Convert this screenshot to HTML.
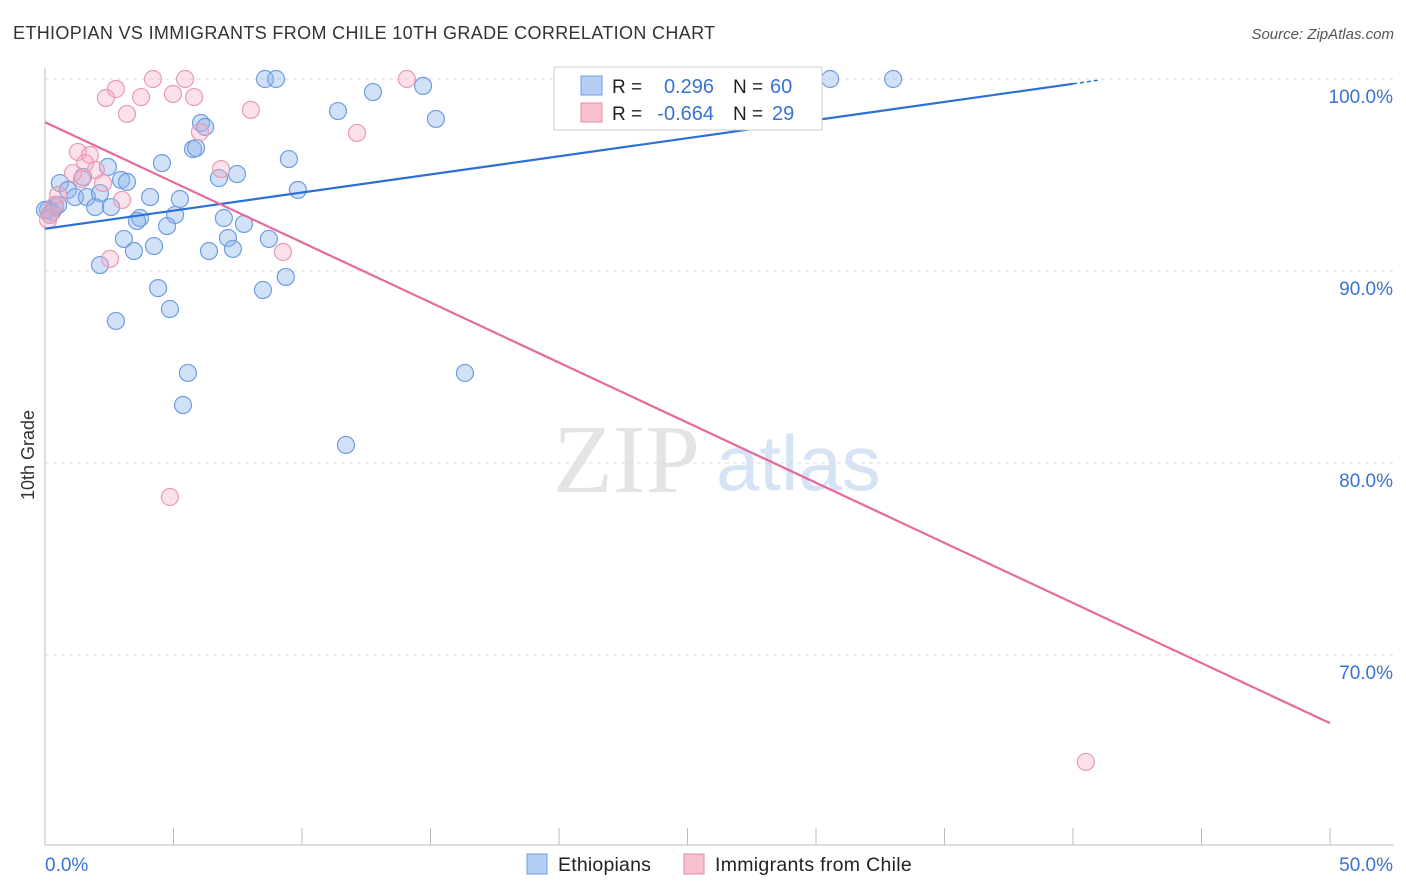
<!DOCTYPE html>
<html><head><meta charset="utf-8"><style>
body{margin:0;background:#fff;font-family:"Liberation Sans",sans-serif;}
#wrap{position:relative;width:1406px;height:892px;overflow:hidden;}
</style></head><body>
<div id="wrap">
<svg id="svg" width="1406" height="892" xmlns="http://www.w3.org/2000/svg">
<text x="13" y="39" font-size="18" fill="#333" letter-spacing="0.35">ETHIOPIAN VS IMMIGRANTS FROM CHILE 10TH GRADE CORRELATION CHART</text>
<text x="1394" y="39" font-size="15" fill="#555" font-style="italic" text-anchor="end">Source: ZipAtlas.com</text>
<text x="34" y="455" font-size="18" fill="#333" transform="rotate(-90 34 455)" text-anchor="middle">10th Grade</text>
<text x="553" y="492" font-size="98" fill="#e4e4e4" font-family="Liberation Serif,serif">ZIP</text>
<text x="716" y="490" font-size="78" fill="#d5e3f5">atlas</text>
<g id="grid"></g><g id="marks"></g><g id="lines"></g>
<g>
<rect x="554" y="67" width="268" height="63" fill="#fff" stroke="#ccc"/>
<rect x="581" y="76" width="21" height="19" fill="#b3cff5" stroke="#6f9de0"/>
<rect x="581" y="103" width="21" height="19" fill="#f9c0d0" stroke="#e58aa8"/>
<text x="612" y="93" font-size="19" fill="#222">R =</text>
<text x="714" y="93" font-size="20" fill="#3a72d4" text-anchor="end">0.296</text>
<text x="733" y="93" font-size="19" fill="#222">N =</text>
<text x="770" y="93" font-size="20" fill="#3a72d4">60</text>
<text x="612" y="120" font-size="19" fill="#222">R =</text>
<text x="714" y="120" font-size="20" fill="#3a72d4" text-anchor="end">-0.664</text>
<text x="733" y="120" font-size="19" fill="#222">N =</text>
<text x="772" y="120" font-size="20" fill="#3a72d4">29</text>
</g>
<g>
<rect x="527" y="854" width="20" height="20" fill="#b3cff5" stroke="#6f9de0"/>
<text x="558" y="871" font-size="19.5" fill="#222" letter-spacing="0.2">Ethiopians</text>
<rect x="684" y="854" width="20" height="20" fill="#f9c0d0" stroke="#e58aa8"/>
<text x="715" y="871" font-size="19.5" fill="#222" letter-spacing="0.3">Immigrants from Chile</text>
</g>
</svg>
</div>
<script>
const xTicks=[0,5,10,15,20,25,30,35,40,45,50];
const yTicks=[100,90,80,70];
const yTickLabels=["100.0%","90.0%","80.0%","70.0%"];
const xEndLabels=["0.0%","50.0%"];
const ethX=[8.56,8.99,30.55,33.0,14.71,12.76,11.40,15.21,20.70,6.07,6.23,5.76,5.88,9.49,4.55,2.45,7.47,6.77,2.96,3.19,0.58,1.48,9.84,0.89,1.17,1.63,2.14,4.09,5.25,1.95,2.57,0.39,0.27,5.06,6.96,3.70,3.58,4.75,7.74,3.07,7.12,8.71,4.24,3.46,6.38,7.31,2.14,4.40,8.48,9.37,4.86,2.76,16.34,5.56,5.37,11.71,0.12,0.19,0.51,0.0];
const ethY=[100,100,100,100,99.64,99.32,98.33,97.92,98.28,97.71,97.5,96.35,96.41,95.83,95.62,95.42,95.05,94.84,94.74,94.64,94.58,94.9,94.22,94.22,93.85,93.85,94.06,93.85,93.75,93.33,93.33,93.33,93.07,92.92,92.76,92.76,92.6,92.34,92.45,91.67,91.72,91.67,91.3,91.04,91.04,91.15,90.31,89.11,89.01,89.69,88.02,87.4,84.69,84.69,83.02,80.94,93.18,92.92,93.44,93.18];
const chX=[4.2,5.45,14.08,2.76,2.37,3.74,4.98,5.8,3.19,8.01,12.14,6.03,1.28,1.75,1.56,1.98,1.09,2.26,1.44,0.51,3.0,6.85,2.53,9.26,4.86,40.5,0.19,0.39,0.12];
const chY=[100,100,100,99.48,99.01,99.06,99.22,99.06,98.18,98.39,97.19,97.24,96.2,96.04,95.62,95.26,95.1,94.58,94.79,93.96,93.7,95.31,90.63,90.99,78.23,64.43,92.92,93.44,92.66];
const ethTrend=[92.2,99.75];   // values at x=0 and x=40
const chTrend=[97.75,66.45];   // values at x=0 and x=50
const X=v=>45+v/50*1285;
const Y=v=>79+(100-v)*19.2;
const NS="http://www.w3.org/2000/svg";
function mk(tag,attrs,parent){const e=document.createElementNS(NS,tag);for(const k in attrs)e.setAttribute(k,attrs[k]);parent.appendChild(e);return e;}
const grid=document.getElementById('grid'),marks=document.getElementById('marks'),lines=document.getElementById('lines'),svg=document.getElementById('svg');
yTicks.forEach((t,i)=>{
  const l=mk('line',{x1:45,x2:1394,y1:Y(t),y2:Y(t),stroke:'#ddd','stroke-dasharray':'4 4'},grid);
  
  
  const tx=mk('text',{x:1393,y:Y(t)+24,'font-size':19,fill:'#3a72d4','text-anchor':'end'},grid);
  tx.textContent=yTickLabels[i];
  
  
});
const ax=mk('line',{x1:45,x2:45,y1:68,y2:845,stroke:'#bbb'},grid);


const bx=mk('line',{x1:45,x2:1394,y1:845,y2:845,stroke:'#bbb'},grid);


xTicks.forEach(t=>{
  const l=mk('line',{x1:X(t),x2:X(t),y1:828,y2:845,stroke:'#bbb'},grid);
  
  
});
xEndLabels.forEach((s,i)=>{
  const tx=mk('text',{x:i?1393:45,y:871,'font-size':19,fill:'#3a72d4','text-anchor':i?'end':'start'},grid);
  tx.textContent=s;
  
  
});
ethX.forEach((v,i)=>{
  const c=mk('circle',{cx:X(v),cy:Y(ethY[i]),r:8.5,fill:'rgba(140,180,235,0.4)',stroke:'#6f9de0','stroke-width':1.2},marks);
  
  
});
chX.forEach((v,i)=>{
  const c=mk('circle',{cx:X(v),cy:Y(chY[i]),r:8.5,fill:'rgba(245,170,195,0.35)',stroke:'#e99ab5','stroke-width':1.2},marks);
  
  
});
const bl=mk('line',{x1:X(0),y1:Y(ethTrend[0]),x2:X(40),y2:Y(ethTrend[1]),stroke:'#2c6fd6','stroke-width':2.2},lines);


const slope=(ethTrend[1]-ethTrend[0])/40;
const bd=mk('line',{x1:X(40),y1:Y(ethTrend[1]),x2:X(41),y2:Y(ethTrend[1]+slope),stroke:'#2c6fd6','stroke-width':1.5,'stroke-dasharray':'4 3'},lines);


const pl=mk('line',{x1:X(0),y1:Y(chTrend[0]),x2:X(50),y2:Y(chTrend[1]),stroke:'#e8689a','stroke-width':2.2},lines);


</script>
</body></html>
